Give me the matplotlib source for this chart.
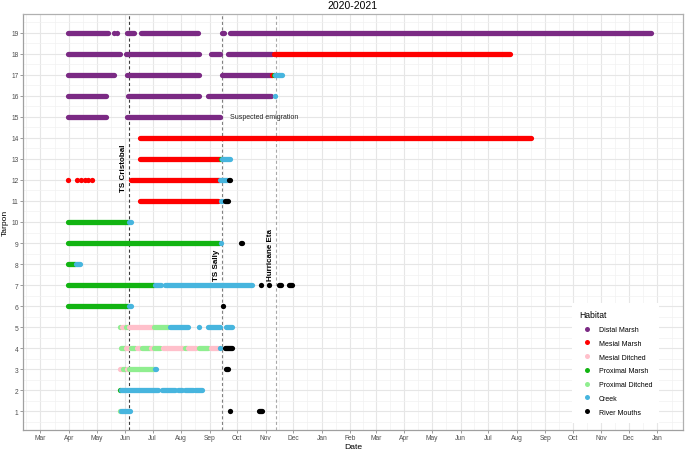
import matplotlib
matplotlib.use("Agg")
import matplotlib.pyplot as plt
import matplotlib.dates as mdates
from matplotlib.lines import Line2D
import pandas as pd

plt.rcParams['font.family'] = ['Liberation Sans', 'DejaVu Sans']

# habitat codes, names and colours
habitat_codes = ["DM", "MM", "MD", "PM", "PD", "CR", "RM"]
habitat_names = ["Distal Marsh", "Mesial Marsh", "Mesial Ditched", "Proximal Marsh",
                 "Proximal Ditched", "Creek", "River Mouths"]
habitat_colors = ["#7b2a84", "#ff0000", "#ffc0cb", "#12b412", "#90ee90", "#47b5de", "#000000"]

# storms
storm_names = ["TS Cristobal", "TS Sally", "Hurricane Eta"]
storm_dates = ["2020-06-05", "2020-09-14", "2020-11-12"]
storm_label_y = [12.6, 8.0, 8.5]
storm_colors = ["#3c3c3c", "#808080", "#a8a8a8"]

# detections per tarpon: (first day, last day, habitat)
tarpon_01 = [("2020-05-27", "2020-05-27", "PD"), ("2020-05-28", "2020-06-06", "CR"),
             ("2020-09-14", "2020-09-15", "RM"), ("2020-09-23", "2020-09-23", "RM"),
             ("2020-10-25", "2020-10-28", "RM")]
tarpon_02 = [("2020-05-27", "2020-05-27", "PM"), ("2020-05-28", "2020-07-07", "CR"),
             ("2020-07-11", "2020-07-25", "CR"), ("2020-07-29", "2020-08-02", "CR"),
             ("2020-08-05", "2020-08-14", "CR"), ("2020-08-16", "2020-08-24", "CR")]
tarpon_03 = [("2020-05-27", "2020-05-29", "MD"), ("2020-05-30", "2020-06-01", "PD"),
             ("2020-06-03", "2020-06-04", "MD"), ("2020-06-05", "2020-07-03", "PD"),
             ("2020-07-04", "2020-07-05", "CR"), ("2020-09-19", "2020-09-21", "RM")]
tarpon_04 = [("2020-05-28", "2020-06-01", "PD"), ("2020-06-02", "2020-06-05", "MD"),
             ("2020-06-07", "2020-06-12", "PD"), ("2020-06-14", "2020-06-17", "MD"),
             ("2020-06-19", "2020-06-28", "PD"), ("2020-06-29", "2020-07-01", "MD"),
             ("2020-07-02", "2020-07-09", "PD"), ("2020-07-12", "2020-08-03", "MD"),
             ("2020-08-05", "2020-08-07", "PD"), ("2020-08-09", "2020-08-17", "MD"),
             ("2020-08-21", "2020-08-30", "PD"), ("2020-09-02", "2020-09-10", "MD"),
             ("2020-09-12", "2020-09-12", "CR"), ("2020-09-18", "2020-09-25", "RM")]
tarpon_05 = [("2020-05-27", "2020-05-27", "PD"), ("2020-05-29", "2020-06-01", "MD"),
             ("2020-06-02", "2020-06-04", "PD"), ("2020-06-05", "2020-07-01", "MD"),
             ("2020-07-03", "2020-07-18", "PD"), ("2020-07-20", "2020-08-08", "CR"),
             ("2020-08-20", "2020-08-20", "CR"), ("2020-08-30", "2020-09-12", "CR"),
             ("2020-09-19", "2020-09-25", "CR")]
tarpon_06 = [("2020-03-31", "2020-06-04", "PM"), ("2020-06-05", "2020-06-07", "CR"),
             ("2020-09-16", "2020-09-16", "RM")]
tarpon_07 = [("2020-03-31", "2020-07-02", "PM"), ("2020-07-04", "2020-07-10", "CR"),
             ("2020-07-15", "2020-10-17", "CR"), ("2020-10-27", "2020-10-27", "RM"),
             ("2020-11-05", "2020-11-05", "RM"), ("2020-11-15", "2020-11-18", "RM"),
             ("2020-11-26", "2020-11-30", "RM")]
tarpon_08 = [("2020-03-31", "2020-04-08", "PM"), ("2020-04-09", "2020-04-13", "CR")]
tarpon_09 = [("2020-03-31", "2020-09-11", "PM"), ("2020-09-13", "2020-09-13", "CR"),
             ("2020-10-05", "2020-10-06", "RM")]
tarpon_10 = [("2020-03-31", "2020-06-04", "PM"), ("2020-06-05", "2020-06-07", "CR")]
tarpon_11 = [("2020-06-17", "2020-09-10", "MM"), ("2020-09-13", "2020-09-14", "CR"),
             ("2020-09-18", "2020-09-21", "RM")]
tarpon_12 = [("2020-03-31", "2020-03-31", "MM"), ("2020-04-10", "2020-04-10", "MM"),
             ("2020-04-14", "2020-04-14", "MM"), ("2020-04-18", "2020-04-18", "MM"),
             ("2020-04-22", "2020-04-22", "MM"), ("2020-04-26", "2020-04-26", "MM"),
             ("2020-06-07", "2020-09-11", "MM"), ("2020-09-12", "2020-09-20", "CR"),
             ("2020-09-22", "2020-09-23", "RM")]
tarpon_13 = [("2020-06-17", "2020-09-12", "MM"), ("2020-09-13", "2020-09-13", "PM"),
             ("2020-09-14", "2020-09-23", "CR")]
tarpon_14 = [("2020-06-17", "2021-08-17", "MM")]
tarpon_15 = [("2020-03-31", "2020-05-11", "DM"), ("2020-06-03", "2020-09-12", "DM")]
tarpon_16 = [("2020-03-31", "2020-05-11", "DM"), ("2020-06-04", "2020-08-21", "DM"),
             ("2020-08-30", "2020-11-07", "DM"), ("2020-11-11", "2020-11-11", "CR")]
tarpon_17 = [("2020-03-31", "2020-05-20", "DM"), ("2020-06-03", "2020-08-21", "DM"),
             ("2020-09-15", "2020-11-07", "DM"), ("2020-11-08", "2020-11-08", "MM"),
             ("2020-11-10", "2020-11-10", "PM"), ("2020-11-11", "2020-11-19", "CR")]
tarpon_18 = [("2020-03-31", "2020-05-26", "DM"), ("2020-06-02", "2020-08-21", "DM"),
             ("2020-09-03", "2020-09-12", "DM"), ("2020-09-21", "2020-11-08", "DM"),
             ("2020-11-10", "2021-07-25", "MM")]
tarpon_19 = [("2020-03-31", "2020-05-13", "DM"), ("2020-05-20", "2020-05-20", "DM"),
             ("2020-05-23", "2020-05-23", "DM"), ("2020-06-03", "2020-06-11", "DM"),
             ("2020-06-18", "2020-08-19", "DM"), ("2020-09-15", "2020-09-17", "DM"),
             ("2020-09-23", "2021-12-25", "DM")]

tracks = [tarpon_01, tarpon_02, tarpon_03, tarpon_04, tarpon_05, tarpon_06, tarpon_07,
          tarpon_08, tarpon_09, tarpon_10, tarpon_11, tarpon_12, tarpon_13, tarpon_14,
          tarpon_15, tarpon_16, tarpon_17, tarpon_18, tarpon_19]

month_ticks = pd.date_range("2020-03-01", "2022-01-01", freq="MS")
x_limits = ["2020-02-11", "2022-01-29"]


def main():
    color_of = dict(zip(habitat_codes, habitat_colors))
    dot = 3.8  # point diameter in pt

    fig = plt.figure(figsize=(6.85, 4.52), dpi=100)
    ax = fig.add_axes([23 / 685, 21 / 452, 660 / 685, 416 / 452])

    # storm lines
    for name, d, ly, c in zip(storm_names, storm_dates, storm_label_y, storm_colors):
        xd = mdates.datestr2num(d)
        ax.axvline(xd, color=c, lw=0.8, dashes=(2.8, 2.2), zorder=1)
        ax.text(xd - 5.5, ly, name, rotation=90, ha="center", va="center",
                fontsize=5.8, fontweight="bold", color="black", zorder=4)

    for i, rows in enumerate(tracks):
        y = i + 1
        for start, end, code in rows:
            s = mdates.datestr2num(start)
            e = mdates.datestr2num(end)
            c = color_of[code]
            if s == e:
                ax.scatter([s], [y], s=dot ** 2, color=c, linewidths=0, zorder=3)
            else:
                ax.plot([s, e], [y, y], color=c, lw=dot, solid_capstyle="round", zorder=3)

    ax.text(mdates.datestr2num("2020-09-23"), 15, "Suspected emigration", fontsize=5,
            ha="left", va="center", color="#222222", zorder=4)

    ax.set_xlim(mdates.datestr2num(x_limits[0]), mdates.datestr2num(x_limits[1]))
    ax.set_ylim(0.1, 19.9)

    mt = mdates.date2num(month_ticks.to_pydatetime())
    minors = [mt[0] - (mt[1] - mt[0]) / 2] + [(a + b) / 2 for a, b in zip(mt[:-1], mt[1:])] \
        + [mt[-1] + 15.5]
    ax.set_xticks(mt)
    ax.set_xticklabels([d.strftime("%b") for d in month_ticks])
    ax.set_xticks(minors, minor=True)
    ax.set_yticks(range(1, 20))
    ax.set_yticks([k + 0.5 for k in range(0, 20)], minor=True)

    ax.grid(which="major", color="#e6e6e6", lw=0.8, zorder=0)
    ax.grid(which="minor", color="#f1f1f1", lw=0.5, zorder=0)
    ax.set_axisbelow(True)
    ax.tick_params(which="major", labelsize=4.8, labelcolor="#4d4d4d", color="#8c8c8c",
                   length=2.2, width=0.6, pad=1)
    ax.tick_params(which="minor", length=0)
    for side, sp in ax.spines.items():
        sp.set_color("#b0b0b0" if side in ("top", "right") else "#a0a0a0")
        sp.set_linewidth(0.9)

    ax.set_xlabel("Date", fontsize=6.1, labelpad=1)
    ax.set_ylabel("Tarpon", fontsize=6.1)
    ax.yaxis.set_label_coords(-14 / 660, 0.5)
    ax.set_title("2020-2021", fontsize=7.5, pad=4)

    handles = [Line2D([], [], ls="", marker="o", markersize=3.6, markeredgewidth=0, color=c)
               for c in habitat_colors]
    leg = ax.legend(handles, habitat_names, title="Habitat", loc="upper left",
                    bbox_to_anchor=(569 / 685, 1 - 301 / 452), bbox_transform=fig.transFigure,
                    fontsize=5, title_fontsize=6.2, alignment="left", frameon=True,
                    facecolor="white", edgecolor="none", framealpha=1, fancybox=False,
                    handlelength=2.3, handletextpad=0.45, labelspacing=0.97, borderpad=1.0)
    leg.set_zorder(5)

    fig.savefig("out.png", dpi=100)


if __name__ == "__main__":
    main()
